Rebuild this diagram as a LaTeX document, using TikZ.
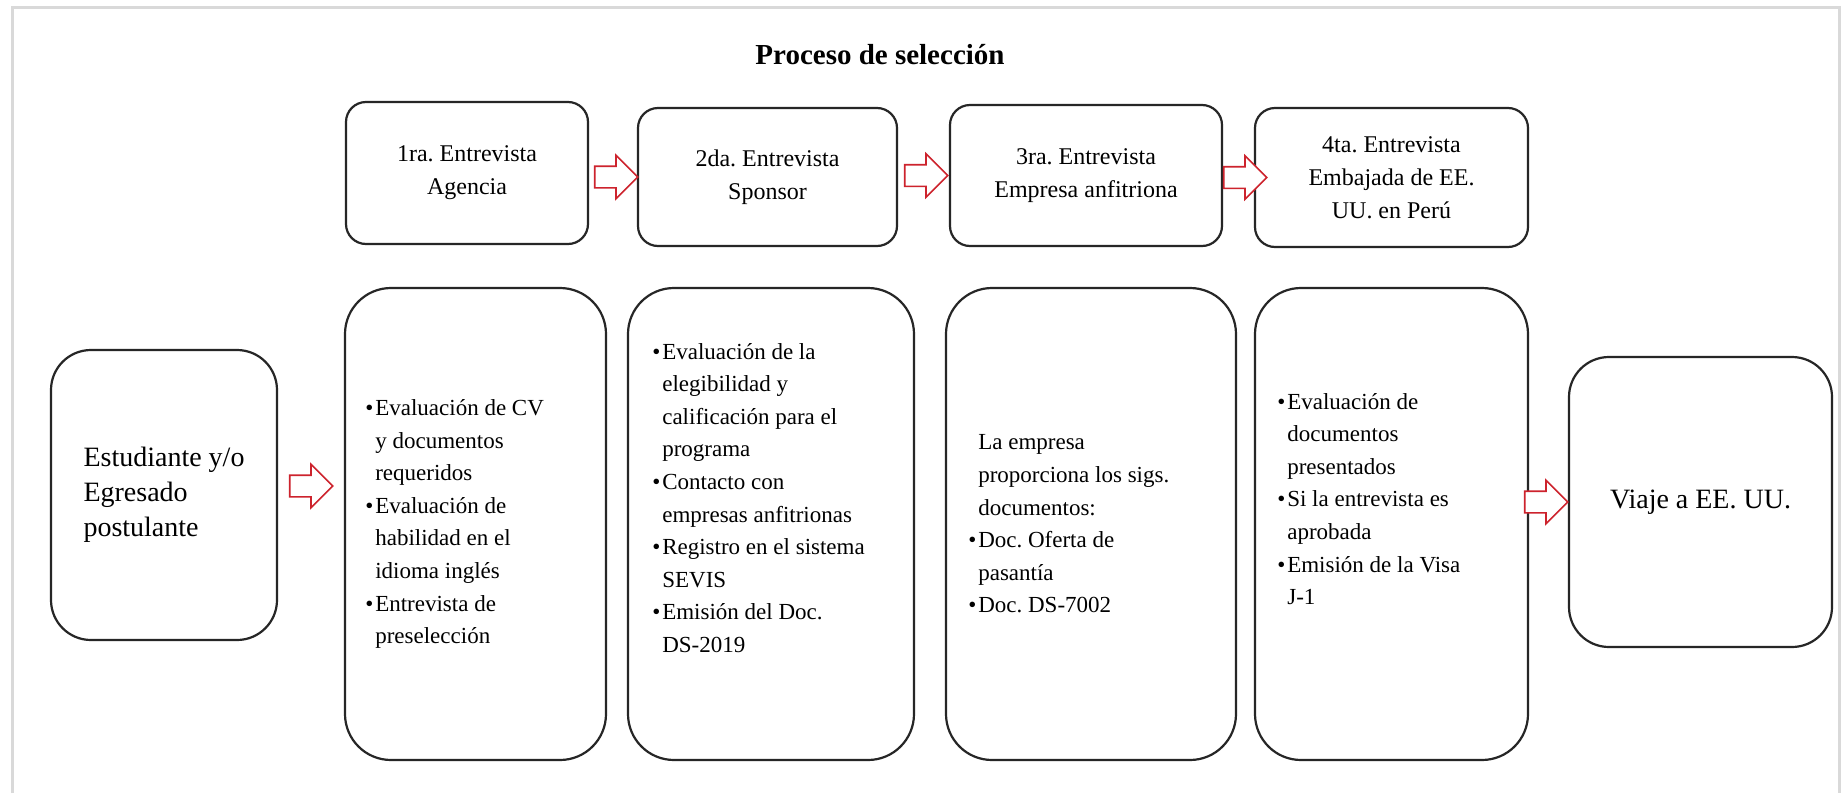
\documentclass[tikz,border=0pt]{standalone}
\usepackage{fontspec}
\setmainfont{Liberation Serif}
\usetikzlibrary{shapes.arrows,calc}
\definecolor{arrowred}{RGB}{205,35,45}
\frenchspacing
\newcommand{\itm}{\makebox[5pt][l]{\textbullet}}
\newcommand{\cnt}{\hspace*{5pt}}
\tikzset{
  box/.style={draw=black!85, line width=1.1pt, fill=white},
  topbox/.style={box, rounded corners=10pt, align=center, font=\fontsize{12}{16.5}\selectfont},
  tallbox/.style={box, rounded corners=23pt, minimum width=#1, minimum height=236pt},
  endbox/.style={box, rounded corners=20pt, align=left, font=\fontsize{14}{17.5}\selectfont, minimum width=#1, minimum height=145pt},
  itemtext/.style={anchor=west, align=left, inner sep=0pt, font=\fontsize{11.5}{16.3}\selectfont},
  blockarrow/.style={single arrow, draw=arrowred, fill=white, line width=0.8pt, minimum height=21.5pt,
    inner xsep=0pt, inner ysep=5pt, single arrow head extend=5.5pt, anchor=tip}
}
\begin{document}
\begin{tikzpicture}[x=0.5pt,y=-0.5pt]
\fill[white] (0,0) rectangle (1843,793);
\useasboundingbox (0,0) rectangle (1843,793);
\draw[black!15, line width=1.5pt] (12,793) -- (12,7) -- (1839,7) -- (1839,793);

\node[font=\bfseries\fontsize{14.5}{17}\selectfont] (title) at (880,55) {Proceso de selección};

\node[topbox, minimum width=121pt, minimum height=71pt] (t1) at (467,173) {1ra. Entrevista\\Agencia};
\node[topbox, minimum width=129.5pt, minimum height=69pt] (t2) at (767.5,177) {2da. Entrevista\\Sponsor};
\node[topbox, minimum width=136pt, minimum height=70.5pt] (t3) at (1086,175.5) {3ra. Entrevista\\Empresa anfitriona};
\node[topbox, minimum width=136.5pt, minimum height=69.5pt] (t4) at (1391.5,177.5) {4ta. Entrevista\\Embajada de EE.\\UU. en Perú};

\node[endbox=113pt] (stud) at (164,495) {Estudiante y/o\\Egresado\\postulante};
\node[tallbox=130.5pt] (boxA) at (475.5,524) {};
\node[tallbox=143pt] (boxB) at (771,524) {};
\node[tallbox=145pt] (boxC) at (1091,524) {};
\node[tallbox=136.5pt] (boxD) at (1391.5,524) {};
\node[endbox=131.5pt, align=center] (trip) at (1700.5,502) {Viaje a EE. UU.};

\node[itemtext] (txtA) at ([xshift=10.5pt]boxA.west) {\itm Evaluación de CV\\ \cnt y documentos\\ \cnt requeridos\\
  \itm Evaluación de\\ \cnt habilidad en el\\ \cnt idioma inglés\\ \itm Entrevista de\\ \cnt preselección};
\node[itemtext] (txtB) at ([xshift=12.5pt,yshift=13pt]boxB.west) {\itm Evaluación de la\\ \cnt elegibilidad y\\ \cnt calificación para el\\
  \cnt programa\\ \itm Contacto con\\ \cnt empresas anfitrionas\\ \itm Registro en el sistema\\ \cnt SEVIS\\
  \itm Emisión del Doc.\\ \cnt DS-2019};
\node[itemtext] (txtC) at ([xshift=11.5pt]boxC.west) {\cnt La empresa\\ \cnt proporciona los sigs.\\ \cnt documentos:\\
  \itm Doc. Oferta de\\ \cnt pasantía\\ \itm Doc. DS-7002};
\node[itemtext] (txtD) at ([xshift=11.5pt,yshift=12.5pt]boxD.west) {\itm Evaluación de\\ \cnt documentos\\ \cnt presentados\\
  \itm Si la entrevista es\\ \cnt aprobada\\ \itm Emisión de la Visa\\ \cnt J-1};

\node[blockarrow] (a1) at ([xshift=1pt]t2.west) {};
\node[blockarrow] (a2) at (t3.west) {};
\node[blockarrow] (a3) at ([xshift=7pt]t4.west) {};
\node[blockarrow] (a4) at ($(boxA.west |- stud.east)+(-5pt,4.5pt)$) {};
\node[blockarrow] (a5) at ([xshift=0.5pt]trip.west) {};
\end{tikzpicture}
\end{document}
